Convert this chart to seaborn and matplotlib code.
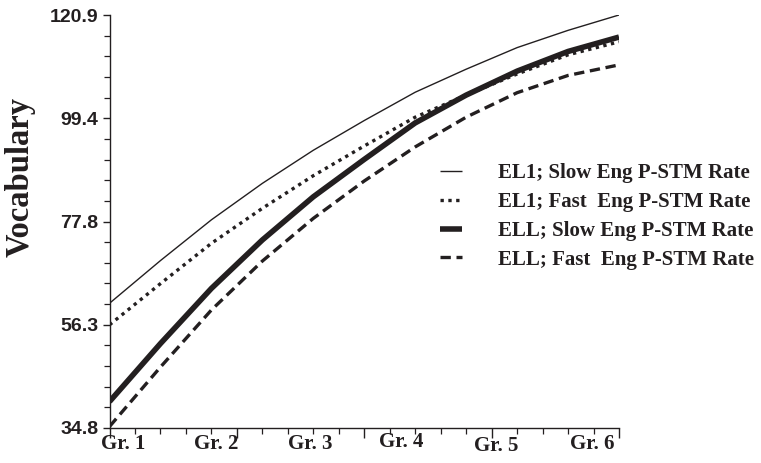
import numpy as np
import pandas as pd
import matplotlib
matplotlib.use("Agg")
import matplotlib.pyplot as plt
import seaborn as sns

# ---- data ----
grade_pos = [1.0, 1.5, 2.0, 2.5, 3.0, 3.5, 4.0, 4.5, 5.0, 5.5, 6.0]
el1_slow = [60.8, 69.7, 78.2, 85.8, 92.7, 98.9, 104.8, 109.6, 114.1, 117.7, 120.9]
el1_fast = [56.3, 64.9, 73.3, 80.6, 87.4, 93.6, 99.6, 104.2, 108.6, 112.6, 115.3]
ell_slow = [40.3, 52.4, 63.9, 74.0, 83.0, 90.8, 98.4, 104.2, 109.2, 113.3, 116.3]
ell_fast = [35.1, 47.5, 59.4, 69.6, 78.5, 86.3, 93.4, 99.6, 104.7, 108.3, 110.5]

series_names = ["EL1; Slow Eng P-STM Rate", "EL1; Fast  Eng P-STM Rate",
                "ELL; Slow Eng P-STM Rate", "ELL; Fast  Eng P-STM Rate"]
grade_labels = ["Gr. 1", "Gr. 2", "Gr. 3", "Gr. 4", "Gr. 5", "Gr. 6"]
grade_label_pos = [1.13, 2.05, 2.97, 3.86, 4.79, 5.74]
y_tick_labels = ["34.8", "56.3", "77.8", "99.4", "120.9"]
y_min, y_max = 34.8, 120.9

df = pd.DataFrame({
    "grade": grade_pos * 4,
    "vocab": el1_slow + el1_fast + ell_slow + ell_fast,
    "series": sum([[n] * len(grade_pos) for n in series_names], []),
})

sns.set_style("ticks")
plt.rcParams["font.family"] = ["Liberation Serif", "DejaVu Serif"]

ink = "#231f20"
styles = {
    series_names[0]: dict(lw=1.0, linestyle="-"),
    series_names[1]: dict(lw=2.4, linestyle=(0, (1.0, 1.35))),
    series_names[2]: dict(lw=4.0, linestyle="-"),
    series_names[3]: dict(lw=2.4, linestyle=(0, (3.1, 1.7))),
}

fig = plt.figure(figsize=(7.61, 4.63), dpi=100)
ax = fig.add_axes([109.5 / 761, 35 / 463, 509.5 / 761, 413 / 463])

for name in series_names:
    sub = df[df["series"] == name]
    sns.lineplot(data=sub, x="grade", y="vocab", ax=ax, color=ink,
                 label=name, solid_capstyle="butt", dash_capstyle="butt",
                 **styles[name])

ax.set_xlim(1, 6)
ax.set_ylim(y_min, y_max)
ax.set_xlabel("")
ax.set_ylabel("")

# x ticks: majors every quarter of the axis, minors in between
ax.set_xticks(np.linspace(1, 6, 5))
ax.set_xticks(np.linspace(1, 6, 21), minor=True)
ax.set_xticklabels([])
ax.tick_params(axis="x", which="major", length=7, width=1.0, color=ink)
ax.tick_params(axis="x", which="minor", length=4, width=0.9, color=ink)

# y ticks
ax.set_yticks(np.linspace(y_min, y_max, len(y_tick_labels)))
ax.set_yticks(np.linspace(y_min, y_max, 21), minor=True)
ax.set_yticklabels(y_tick_labels, family=["Liberation Sans", "DejaVu Sans"],
                   fontweight="bold", fontsize=14, color=ink)
ax.tick_params(axis="y", which="major", length=5, width=1.0, pad=3, color=ink)
ax.tick_params(axis="y", which="minor", length=4, width=0.9, color=ink)

sns.despine(ax=ax)
for s in ["left", "bottom"]:
    ax.spines[s].set_linewidth(1.0)
    ax.spines[s].set_color(ink)

# grade labels
trans = matplotlib.transforms.blended_transform_factory(ax.transData, ax.transAxes)
y_offsets = [0, 0, 0, 0.003, -0.006, 0]
for lab, xp, dy in zip(grade_labels, grade_label_pos, y_offsets):
    ax.text(xp, -0.038 + dy, lab, transform=trans, ha="center", va="center",
            fontsize=15, fontweight="bold", color=ink)

fig.text(20.5 / 761, 1 - 176.5 / 463, "Vocabulary", rotation=90,
         ha="center", va="center", fontsize=23.5, fontweight="bold", color=ink)

leg = ax.legend(loc="upper left", bbox_to_anchor=(430 / 761, 1 - 153 / 463),
                bbox_transform=fig.transFigure, frameon=False, borderpad=0,
                handlelength=1.05, handletextpad=1.7, labelspacing=0.42,
                prop=dict(family=["Liberation Serif"], weight="bold", size=15))
for t in leg.get_texts():
    t.set_color(ink)

fig.savefig("out.png", dpi=100)
